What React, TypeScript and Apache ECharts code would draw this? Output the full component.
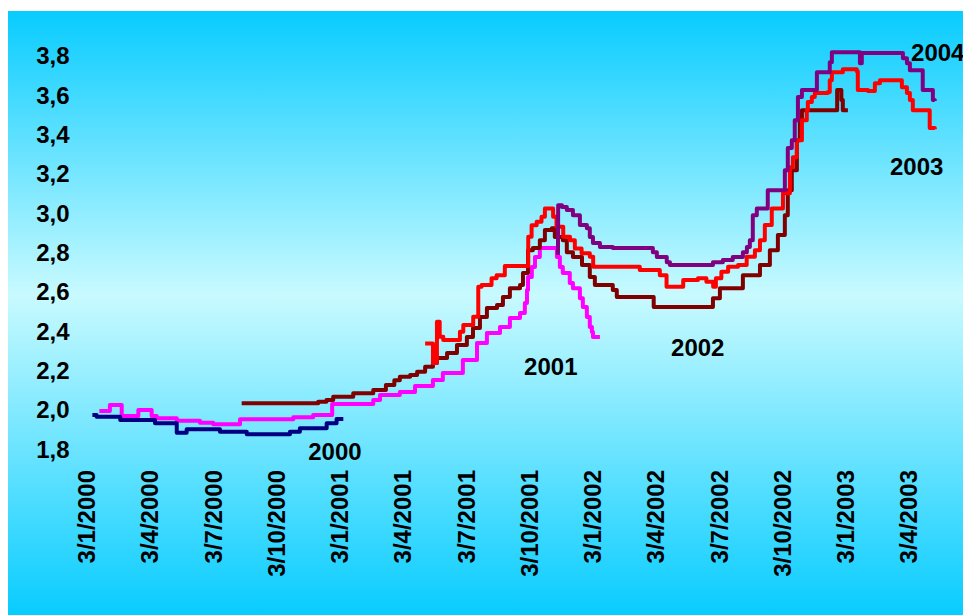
import React, { useEffect, useRef } from "react";
import * as echarts from "echarts";

// x = months since 3/1/2000, y = rate
const s2000: number[][] = [[0.28,1.973],[0.48,1.964],[1.6,1.947],[3.25,1.931],[4.28,1.883],[4.75,1.9],[6.33,1.888],[7.6,1.875],[9.65,1.888],[10.12,1.905],[11.39,1.931],[11.86,1.952],[12.18,1.952]];
const s2001: number[][] = [[0.61,1.993],[1.11,2.024],[1.67,1.968],[2.46,1.998],[3.09,1.968],[3.33,1.956],[4.28,1.944],[5.38,1.934],[6.01,1.926],[7.28,1.951],[9.81,1.961],[10.75,1.973],[11.65,2.029],[13.6,2.049],[13.92,2.074],[14.86,2.09],[15.58,2.12],[16.43,2.151],[16.9,2.186],[17.85,2.252],[18.52,2.339],[18.99,2.39],[19.61,2.42],[20.08,2.466],[20.56,2.491],[20.79,2.542],[20.89,2.608],[20.94,2.674],[21.12,2.725],[21.27,2.776],[21.5,2.822],[22.31,2.776],[22.45,2.725],[22.59,2.695],[22.92,2.644],[23.07,2.618],[23.4,2.567],[23.54,2.522],[23.73,2.471],[23.87,2.42],[23.97,2.395],[24.02,2.369],[24.35,2.369]];
const s2002: number[][] = [[7.36,2.032],[10.99,2.04],[11.38,2.049],[11.7,2.066],[12.65,2.083],[13.6,2.1],[14.2,2.125],[14.6,2.15],[14.86,2.167],[15.35,2.176],[15.68,2.193],[16.06,2.218],[16.43,2.237],[16.62,2.263],[17.1,2.288],[17.57,2.329],[18.04,2.369],[18.33,2.415],[18.66,2.471],[18.99,2.517],[19.47,2.532],[19.75,2.573],[20.08,2.618],[20.56,2.634],[20.7,2.695],[20.94,2.811],[21.17,2.822],[21.5,2.862],[21.74,2.913],[22.07,2.923],[22.21,2.878],[22.59,2.862],[22.78,2.801],[23.07,2.776],[23.5,2.735],[23.87,2.674],[24.11,2.634],[24.96,2.608],[25.15,2.573],[26.9,2.522],[29.71,2.567],[30.04,2.618],[31.13,2.684],[31.94,2.735],[32.41,2.811],[32.79,2.888],[33.12,2.989],[33.26,3.116],[33.45,3.218],[33.69,3.37],[33.83,3.472],[33.93,3.523],[35.6,3.625],[35.8,3.575],[35.87,3.523],[36.11,3.523]];
const s2003: number[][] = [[16.06,2.337],[16.43,2.237],[16.62,2.447],[16.75,2.371],[16.92,2.354],[17.71,2.396],[17.87,2.43],[18.34,2.472],[18.58,2.625],[18.74,2.634],[19.21,2.668],[19.45,2.684],[19.84,2.73],[20.95,2.879],[21.11,2.938],[21.35,2.955],[21.58,2.981],[21.74,3.023],[22.13,2.981],[22.29,2.93],[22.61,2.879],[22.93,2.862],[23.16,2.82],[23.48,2.795],[23.87,2.777],[24.03,2.727],[26.24,2.71],[27.19,2.684],[27.51,2.625],[28.3,2.659],[29.0,2.668],[29.4,2.65],[29.72,2.625],[29.85,2.668],[30.11,2.701],[30.43,2.727],[30.9,2.735],[31.31,2.777],[31.7,2.811],[31.94,2.862],[32.17,2.939],[32.5,3.023],[33.03,3.101],[33.36,3.233],[33.5,3.284],[33.69,3.37],[33.93,3.472],[34.16,3.523],[34.21,3.564],[34.4,3.59],[34.54,3.61],[35.16,3.615],[35.25,3.675],[35.35,3.716],[35.87,3.731],[36.53,3.721],[36.58,3.625],[37.06,3.62],[37.39,3.66],[37.63,3.675],[38.57,3.675],[38.67,3.64],[38.91,3.61],[39.05,3.574],[39.19,3.523],[39.85,3.523],[39.99,3.432],[40.23,3.426]];
const s2004: number[][] = [[22.36,2.786],[22.37,3.04],[22.55,3.03],[22.78,3.015],[23.07,2.989],[23.4,2.939],[23.73,2.923],[23.87,2.878],[24.02,2.847],[24.35,2.827],[24.96,2.822],[26.86,2.8],[27.05,2.776],[27.52,2.75],[27.67,2.735],[29.71,2.75],[30.18,2.761],[30.65,2.776],[31.13,2.801],[31.32,2.827],[31.46,2.862],[31.6,2.989],[31.79,3.023],[32.31,3.116],[33.12,3.218],[33.26,3.33],[33.45,3.37],[33.59,3.472],[33.74,3.59],[33.93,3.625],[34.64,3.716],[35.25,3.767],[35.35,3.818],[36.68,3.762],[36.77,3.813],[38.72,3.787],[38.91,3.762],[39.05,3.726],[39.66,3.625],[40.14,3.574],[40.23,3.569]];

const seriesNames = ["2000", "2001", "2002", "2003", "2004"];
const seriesColors = ["#000080", "#ff00ff", "#800000", "#ff0000", "#800080"];
const seriesData = [s2000, s2001, s2002, s2003, s2004];

// annotation positions in data space [month, value, text]
const annotations: (number | string)[][] = [
  [11.78, 1.785, "2000"],
  [22.02, 2.222, "2001"],
  [28.99, 2.316, "2002"],
  [39.37, 3.235, "2003"],
  [40.37, 3.815, "2004"],
];

const xMin = 0;
const xMax = 41;
const xInterval = 3;
const yMin = 1.8;
const yMax = 3.9;
const yInterval = 0.2;

const FONT = "'Liberation Sans', Arial, sans-serif";

export default function App() {
  const ref = useRef<HTMLDivElement>(null);
  useEffect(() => {
    if (!ref.current) return;
    const chart = echarts.init(ref.current, undefined, { renderer: "svg" });
    chart.setOption({
      animation: false,
      backgroundColor: new echarts.graphic.LinearGradient(0, 0, 0, 1, [
        { offset: 0, color: "#08ccff" },
        { offset: 0.47, color: "#c8faff" },
        { offset: 1, color: "#08ccff" },
      ]),
      grid: { left: 78.5, right: 12, top: 25, bottom: 166, containLabel: false },
      xAxis: {
        type: "value",
        min: xMin,
        max: xMax,
        interval: xInterval,
        axisLine: { show: false },
        axisTick: { show: false },
        splitLine: { show: false },
        axisLabel: {
          rotate: 90,
          margin: 21,
          color: "#000",
          fontWeight: "bold",
          fontSize: 24,
          fontFamily: FONT,
          formatter: (v: number) => {
            const r = Math.round(v);
            if (Math.abs(v - r) > 1e-6 || r % 3 !== 0) return "";
            return `3/${(r % 12) + 1}/${2000 + Math.floor(r / 12)}`;
          },
        },
      },
      yAxis: {
        type: "value",
        min: yMin,
        max: yMax,
        interval: yInterval,
        axisLine: { show: false },
        axisTick: { show: false },
        splitLine: { show: false },
        axisLabel: {
          margin: 17,
          color: "#000",
          fontWeight: "bold",
          fontSize: 24,
          fontFamily: FONT,
          formatter: (v: number) => {
            const k = v / 0.2;
            if (Math.abs(k - Math.round(k)) > 1e-6 || v > 3.85) return "";
            return v.toFixed(1).replace(".", ",");
          },
        },
      },
      series: [
        ...seriesData.map((d, i) => ({
          name: seriesNames[i],
          type: "line",
          step: "end",
          data: d,
          showSymbol: false,
          symbol: "none",
          lineStyle: { color: seriesColors[i], width: 4, join: "round" },
          z: 2 + (i === 0 ? 1 : 0),
        })),
        {
          type: "scatter",
          data: annotations,
          symbolSize: 0,
          clip: false,
          silent: true,
          itemStyle: { color: "rgba(0,0,0,0)", opacity: 1 },
          label: {
            show: true,
            position: "inside",
            color: "#000000",
            opacity: 1,
            textBorderWidth: 0,
            textBorderColor: "transparent",
            fontWeight: "bold",
            fontSize: 24,
            fontFamily: FONT,
            formatter: (p: any) => String(p.data[2]),
          },
        },
      ],
    });
    return () => chart.dispose();
  }, []);
  return (
    <div
      ref={ref}
      style={{ position: "fixed", left: 8, top: 11, width: 955, height: 604 }}
    />
  );
}
